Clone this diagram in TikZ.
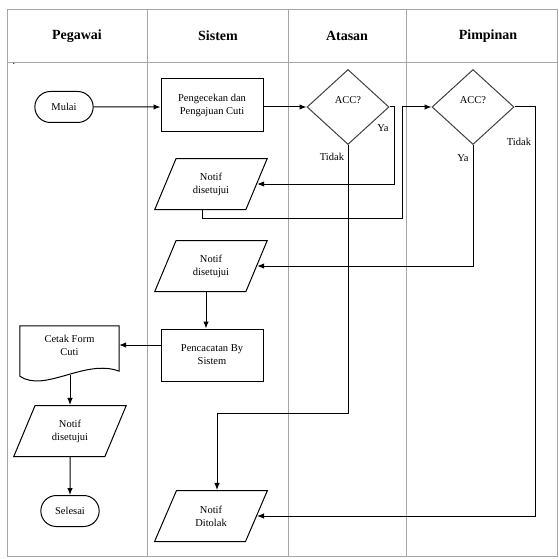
\documentclass[tikz,border=0pt]{standalone}
\usepackage{fontspec}
\setmainfont{Liberation Serif}
\usetikzlibrary{calc,shapes.geometric,shapes.misc,arrows.meta}

\begin{document}
\begin{tikzpicture}[x=1pt,y=-1pt,
  font=\fontsize{10.5}{13}\selectfont,
  lane/.style={draw=gray!70,line width=0.9pt},
  judul/.style={font=\fontsize{14}{16}\selectfont\bfseries},
  proses/.style={draw,line width=1pt,minimum width=102pt,minimum height=52pt,align=center},
  terminal/.style={draw,line width=1pt,rounded rectangle,minimum width=65pt,minimum height=31pt},
  keputusan/.style={draw=black!75,line width=1pt,diamond,minimum width=82pt,minimum height=75pt,inner sep=0pt},
  dataio/.style={draw,line width=1pt,trapezium,trapezium left angle=64,trapezium right angle=116,
    trapezium stretches=true,minimum width=113pt,minimum height=51pt,align=center,inner sep=0pt},
  alur/.style={-{Latex[length=7pt,width=5.5pt]},line width=1pt}]
  \useasboundingbox (0,0) rectangle (558,559);

  %% Building the swimlanes
  \draw[lane] (7,9) rectangle (557,556);
  \draw[lane] (7,62) -- (557,62);
  \foreach \x in {147,288,406}
  {
    \draw[lane] (\x,9) -- (\x,556);
  }
  \foreach \x/\nama/\teks in {77/hPeg/Pegawai, 218/hSis/Sistem, 347/hAta/Atasan, 488/hPim/Pimpinan}
  {
    \node[judul] (\nama) at (\x,36) {\teks};
  }
  \node (titik) at (14,64) {.};

  %% Flow nodes
  \node[terminal] (mulai) at (64,107) {Mulai};
  \node[proses] (cek) at (212,105) {Pengecekan dan\\Pengajuan Cuti};
  \node[keputusan] (acc1) at (348,107) {};
  \node (acc1t) at (348,100) {ACC?};
  \node[keputusan] (acc2) at (473,107) {};
  \node (acc2t) at (473,100) {ACC?};
  \node[dataio] (notif1) at (211,184) {Notif\\disetujui};
  \node[dataio] (notif2) at (211,266) {Notif\\disetujui};
  \node[proses] (catat) at (212,355) {Pencacatan By\\Sistem};
  \node[minimum width=99pt,minimum height=38pt,align=center] (cetak) at (69.5,345) {Cetak Form\\Cuti};
  \draw[line width=1pt] (cetak.north west) -- ($(cetak.south west)+(0,12)$)
    .. controls ($(cetak.south west)+(25,29)$) and ($(cetak.south east)+(-34,-6)$)
    .. ($(cetak.south east)+(0,7)$) -- (cetak.north east) -- cycle;
  \node[dataio] (notif3) at (70,431) {Notif\\disetujui};
  \node[terminal] (selesai) at (70,511) {Selesai};
  \node[dataio] (tolak) at (211,516) {Notif\\Ditolak};

  %% Connectors
  \coordinate (ya1) at (394,107);
  \coordinate (turun) at (202,218);
  \coordinate (lewat) at (402,218);
  \coordinate (tk1) at (217,413);
  \coordinate (tk2) at (535,107);
  \coordinate (gelombang) at (70,375);
  \draw[alur] (mulai) -- (mulai -| cek.west);
  \draw[alur] (cek.east |- acc1) -- (acc1.west);
  \draw[alur] (acc1.east) -- (ya1) |- (notif1.east);
  \draw[alur] (turun |- notif1.south) -- (turun) -- (lewat) |- (acc2.west);
  \draw[alur] (acc2.south) |- (notif2.east);
  \draw[alur] (acc2.east) -- (tk2) |- (tolak.east);
  \draw[alur] (acc1.south) |- (tk1) -- (tk1 |- tolak.north);
  \draw[alur] ([xshift=-5pt]notif2.south) -- ([xshift=-5pt]notif2.south |- catat.north);
  \draw[alur] (cetak.east -| catat.west) -- (cetak.east);
  \draw[alur] (gelombang) -- (notif3);
  \draw[alur] (notif3) -- (selesai);

  %% Branch labels
  \node (ya1t) at (383,128) {Ya};
  \node (tidak1t) at (332,157) {Tidak};
  \node (ya2t) at (463,158) {Ya};
  \node (tidak2t) at (519,142) {Tidak};
\end{tikzpicture}
\end{document}
